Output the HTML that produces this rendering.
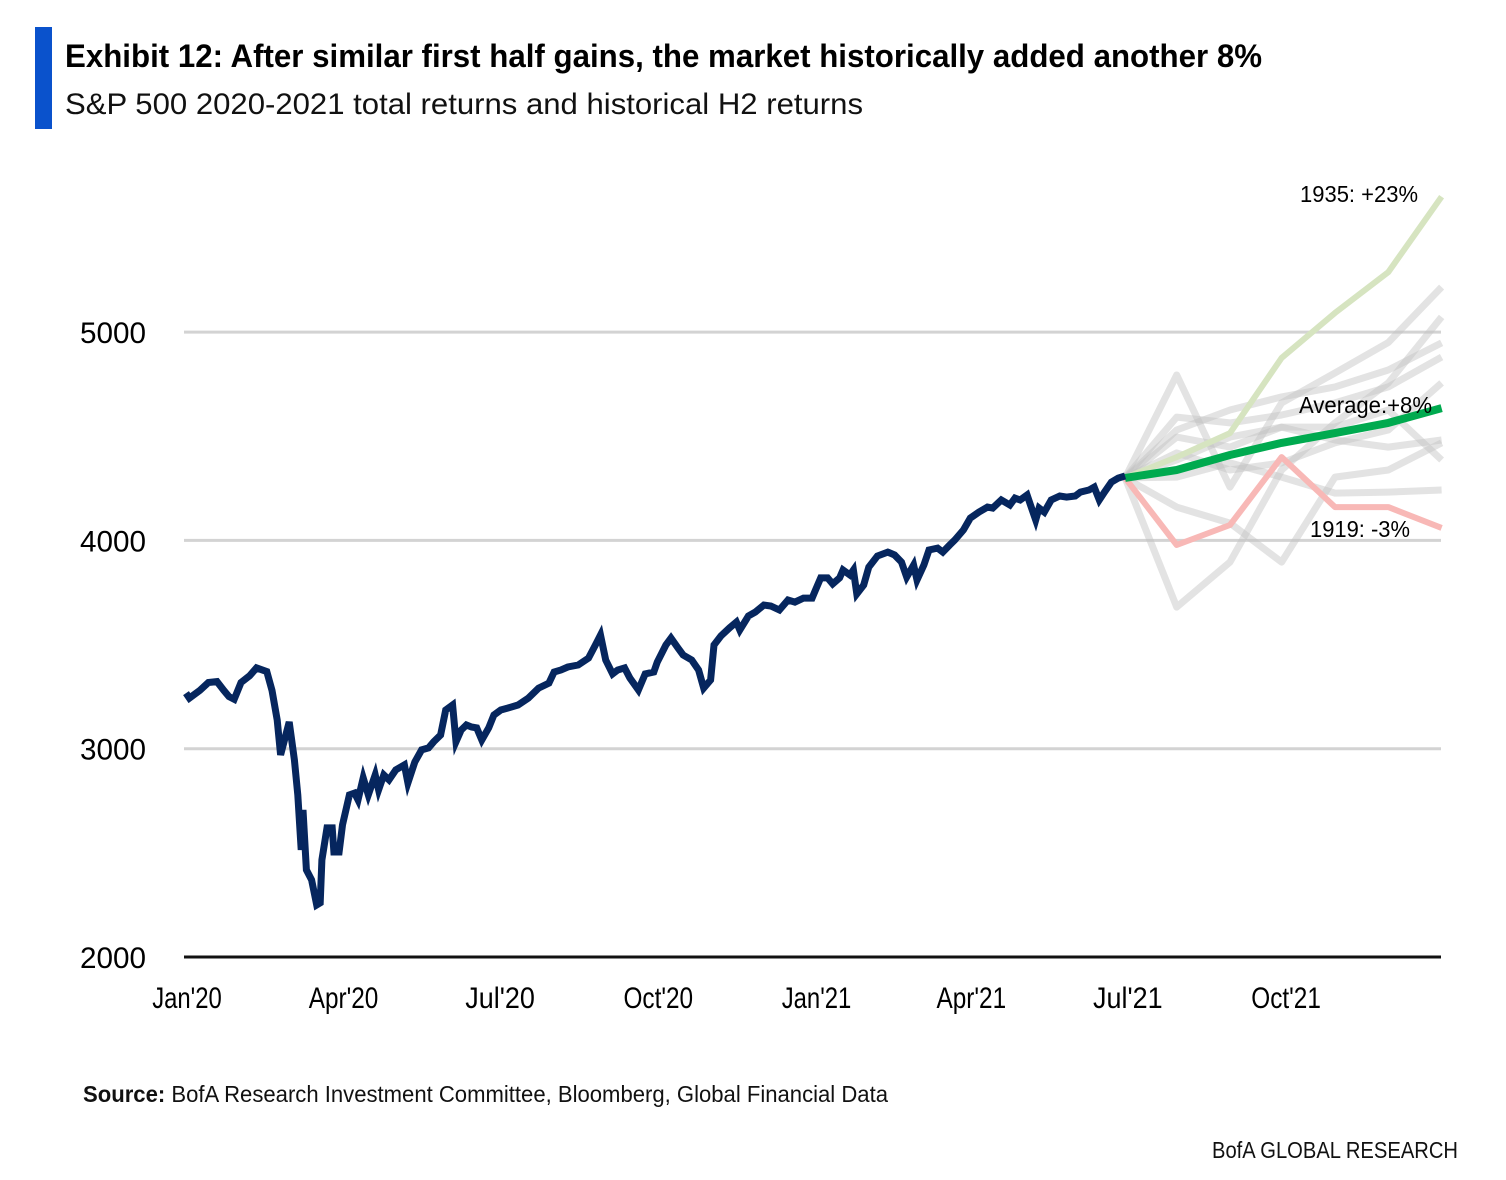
<!DOCTYPE html>
<html><head><meta charset="utf-8"><style>
html,body{margin:0;padding:0;background:#fff;width:1506px;height:1180px;overflow:hidden}
svg text{font-family:"Liberation Sans",sans-serif}
</style></head><body>
<svg id="chart" width="1506" height="1180" viewBox="0 0 1506 1180">
<rect x="35" y="27" width="17" height="102" fill="#0a52cc"/>
<text x="65" y="67" font-size="32" font-weight="bold" textLength="1197" lengthAdjust="spacingAndGlyphs" fill="#000">Exhibit 12: After similar first half gains, the market historically added another 8%</text>
<text x="65" y="114" font-size="30" textLength="798" lengthAdjust="spacingAndGlyphs" fill="#111">S&amp;P 500 2020-2021 total returns and historical H2 returns</text>
<g id="grid"></g>
<g id="yticks"></g>
<g id="xticks"></g>
<g id="proj"></g>
<g id="main"></g>
<text x="1300" y="202" font-size="23" textLength="118" lengthAdjust="spacingAndGlyphs">1935: +23%</text>
<text x="1299" y="413" font-size="23" textLength="133" lengthAdjust="spacingAndGlyphs">Average:+8%</text>
<text x="1310" y="537" font-size="23" textLength="100" lengthAdjust="spacingAndGlyphs">1919: -3%</text>
<text x="83" y="1102" font-size="23" textLength="805" lengthAdjust="spacingAndGlyphs" fill="#111"><tspan font-weight="bold">Source:</tspan> BofA Research Investment Committee, Bloomberg, Global Financial Data</text>
<text x="1212" y="1158" font-size="23" textLength="246" lengthAdjust="spacingAndGlyphs" fill="#111">BofA GLOBAL RESEARCH</text>
</svg>
<script>
const yTicks=[2000,3000,4000,5000];
const xTickLabels=["Jan'20","Apr'20","Jul'20","Oct'20","Jan'21","Apr'21","Jul'21","Oct'21"];
const xTickDays=[0,91,182,274,366,456,547,639];
const spDays=[0,2,8,13,18,22,25,28,32,37,41,47,50,53,55,58,60,63,65,67,68,70,73,76,78,79,82,85,86,89,91,95,98,100,103,106,110,112,115,118,122,127,129,133,137,141,144,148,151,155,157,160,163,166,169,172,176,179,183,187,193,199,205,211,214,218,222,228,234,238,241,244,248,251,255,258,263,267,272,274,279,282,286,289,294,298,301,305,307,311,316,320,322,327,331,336,340,345,350,354,359,364,366,369,373,376,380,382,386,388,390,394,397,402,408,412,416,419,423,425,429,432,437,440,444,447,452,456,461,466,469,474,479,482,485,489,491,494,496,499,503,508,512,517,520,525,528,531,534,538,542,546];
const spValues=[3267,3243,3280,3318,3322,3280,3250,3237,3318,3350,3388,3370,3280,3138,2970,3066,3128,2946,2778,2514,2706,2418,2370,2250,2260,2466,2620,2620,2504,2504,2634,2778,2787,2754,2860,2778,2874,2802,2874,2850,2898,2922,2836,2936,2994,3004,3033,3066,3186,3210,3033,3090,3114,3104,3100,3042,3100,3162,3186,3195,3210,3243,3291,3315,3368,3378,3392,3402,3435,3498,3546,3426,3359,3378,3388,3340,3282,3359,3368,3416,3498,3531,3484,3450,3426,3378,3291,3330,3498,3541,3580,3608,3570,3637,3656,3690,3685,3666,3714,3704,3723,3723,3762,3820,3820,3791,3820,3858,3834,3858,3743,3786,3872,3925,3944,3930,3896,3824,3882,3810,3882,3954,3963,3944,3978,4002,4050,4107,4136,4160,4155,4194,4170,4203,4194,4218,4170,4098,4155,4136,4194,4213,4208,4213,4232,4242,4256,4194,4232,4280,4299,4309];
const projDays=[546,576,607,637,668,699,730];
const path1935=[4300,4400,4515,4876,5092,5288,5650];
const pathAverage=[4300,4338,4410,4468,4515,4564,4635];
const path1919=[4300,3978,4074,4400,4160,4160,4060];
const grayA=[4300,4794,4256,4660,4804,4950,5216];
const grayB=[4300,3680,3896,4338,4564,4756,5073];
const grayC=[4300,4160,4083,3896,4304,4338,4468];
const grayD=[4300,4592,4564,4602,4660,4737,4880];
const grayE=[4300,4496,4448,4544,4482,4448,4482];
const grayF=[4300,4304,4372,4304,4227,4232,4242];
const grayG=[4300,4420,4338,4372,4468,4530,4756];
const grayH=[4300,4530,4626,4689,4737,4818,4948];
const grayI=[4300,4386,4496,4544,4544,4626,4386];
const grayPaths=[grayA,grayB,grayC,grayD,grayE,grayF,grayG,grayH,grayI];

const NS="http://www.w3.org/2000/svg";
const X0=184,X1=1441;
function xs(d){return 186+d*1.72;}
function ys(v){return 957-(v-2000)*0.2083;}
function el(tag,attrs,parent){const e=document.createElementNS(NS,tag);for(const k in attrs)e.setAttribute(k,attrs[k]);parent.appendChild(e);return e;}
const grid=document.getElementById('grid'),yt=document.getElementById('yticks'),xt=document.getElementById('xticks');
yTicks.forEach(v=>{
  if(v===2000){
    const l=el('line',{x1:X0,x2:X1,y1:ys(v),y2:ys(v),stroke:'#111','stroke-width':3},grid);
    
    
  } else {
    const l=el('line',{x1:X0,x2:X1,y1:ys(v),y2:ys(v),stroke:'#d3d3d3','stroke-width':3},grid);
    
    
  }
  const t=el('text',{x:146,y:ys(v)+11,'font-size':30,'text-anchor':'end',textLength:66,lengthAdjust:'spacingAndGlyphs'},yt);
  t.textContent=v;
  
  
});
xTickLabels.forEach((s,i)=>{
  const t=el('text',{x:xs(xTickDays[i])+1,y:1008,'font-size':30,'text-anchor':'middle',textLength:s.length*11.6,lengthAdjust:'spacingAndGlyphs'},xt);
  t.textContent=s;
  
  
});
function pts(days,vals){return vals.map((v,i)=>xs(days[i]).toFixed(1)+','+ys(v).toFixed(1)).join(' ');}
const proj=document.getElementById('proj');
grayPaths.forEach(g=>{
  const p=el('polyline',{points:pts(projDays,g),fill:'none',stroke:'#c0c0c0','stroke-opacity':0.45,'stroke-width':7,'stroke-linejoin':'round'},proj);
  
  
});
const p35=el('polyline',{points:pts(projDays,path1935),fill:'none',stroke:'#d6e4c0','stroke-width':6,'stroke-linejoin':'round'},proj);


const p19=el('polyline',{points:pts(projDays,path1919),fill:'none',stroke:'#f8b8b6','stroke-width':6,'stroke-linejoin':'round'},proj);


const pav=el('polyline',{points:pts(projDays,pathAverage),fill:'none',stroke:'#00aa4f','stroke-width':8,'stroke-linejoin':'round'},proj);


const main=document.getElementById('main');
const sp=el('polyline',{points:pts(spDays,spValues),fill:'none',stroke:'#06265e','stroke-width':7,'stroke-linejoin':'miter','stroke-linecap':'butt'},main);


</script>
</body></html>
